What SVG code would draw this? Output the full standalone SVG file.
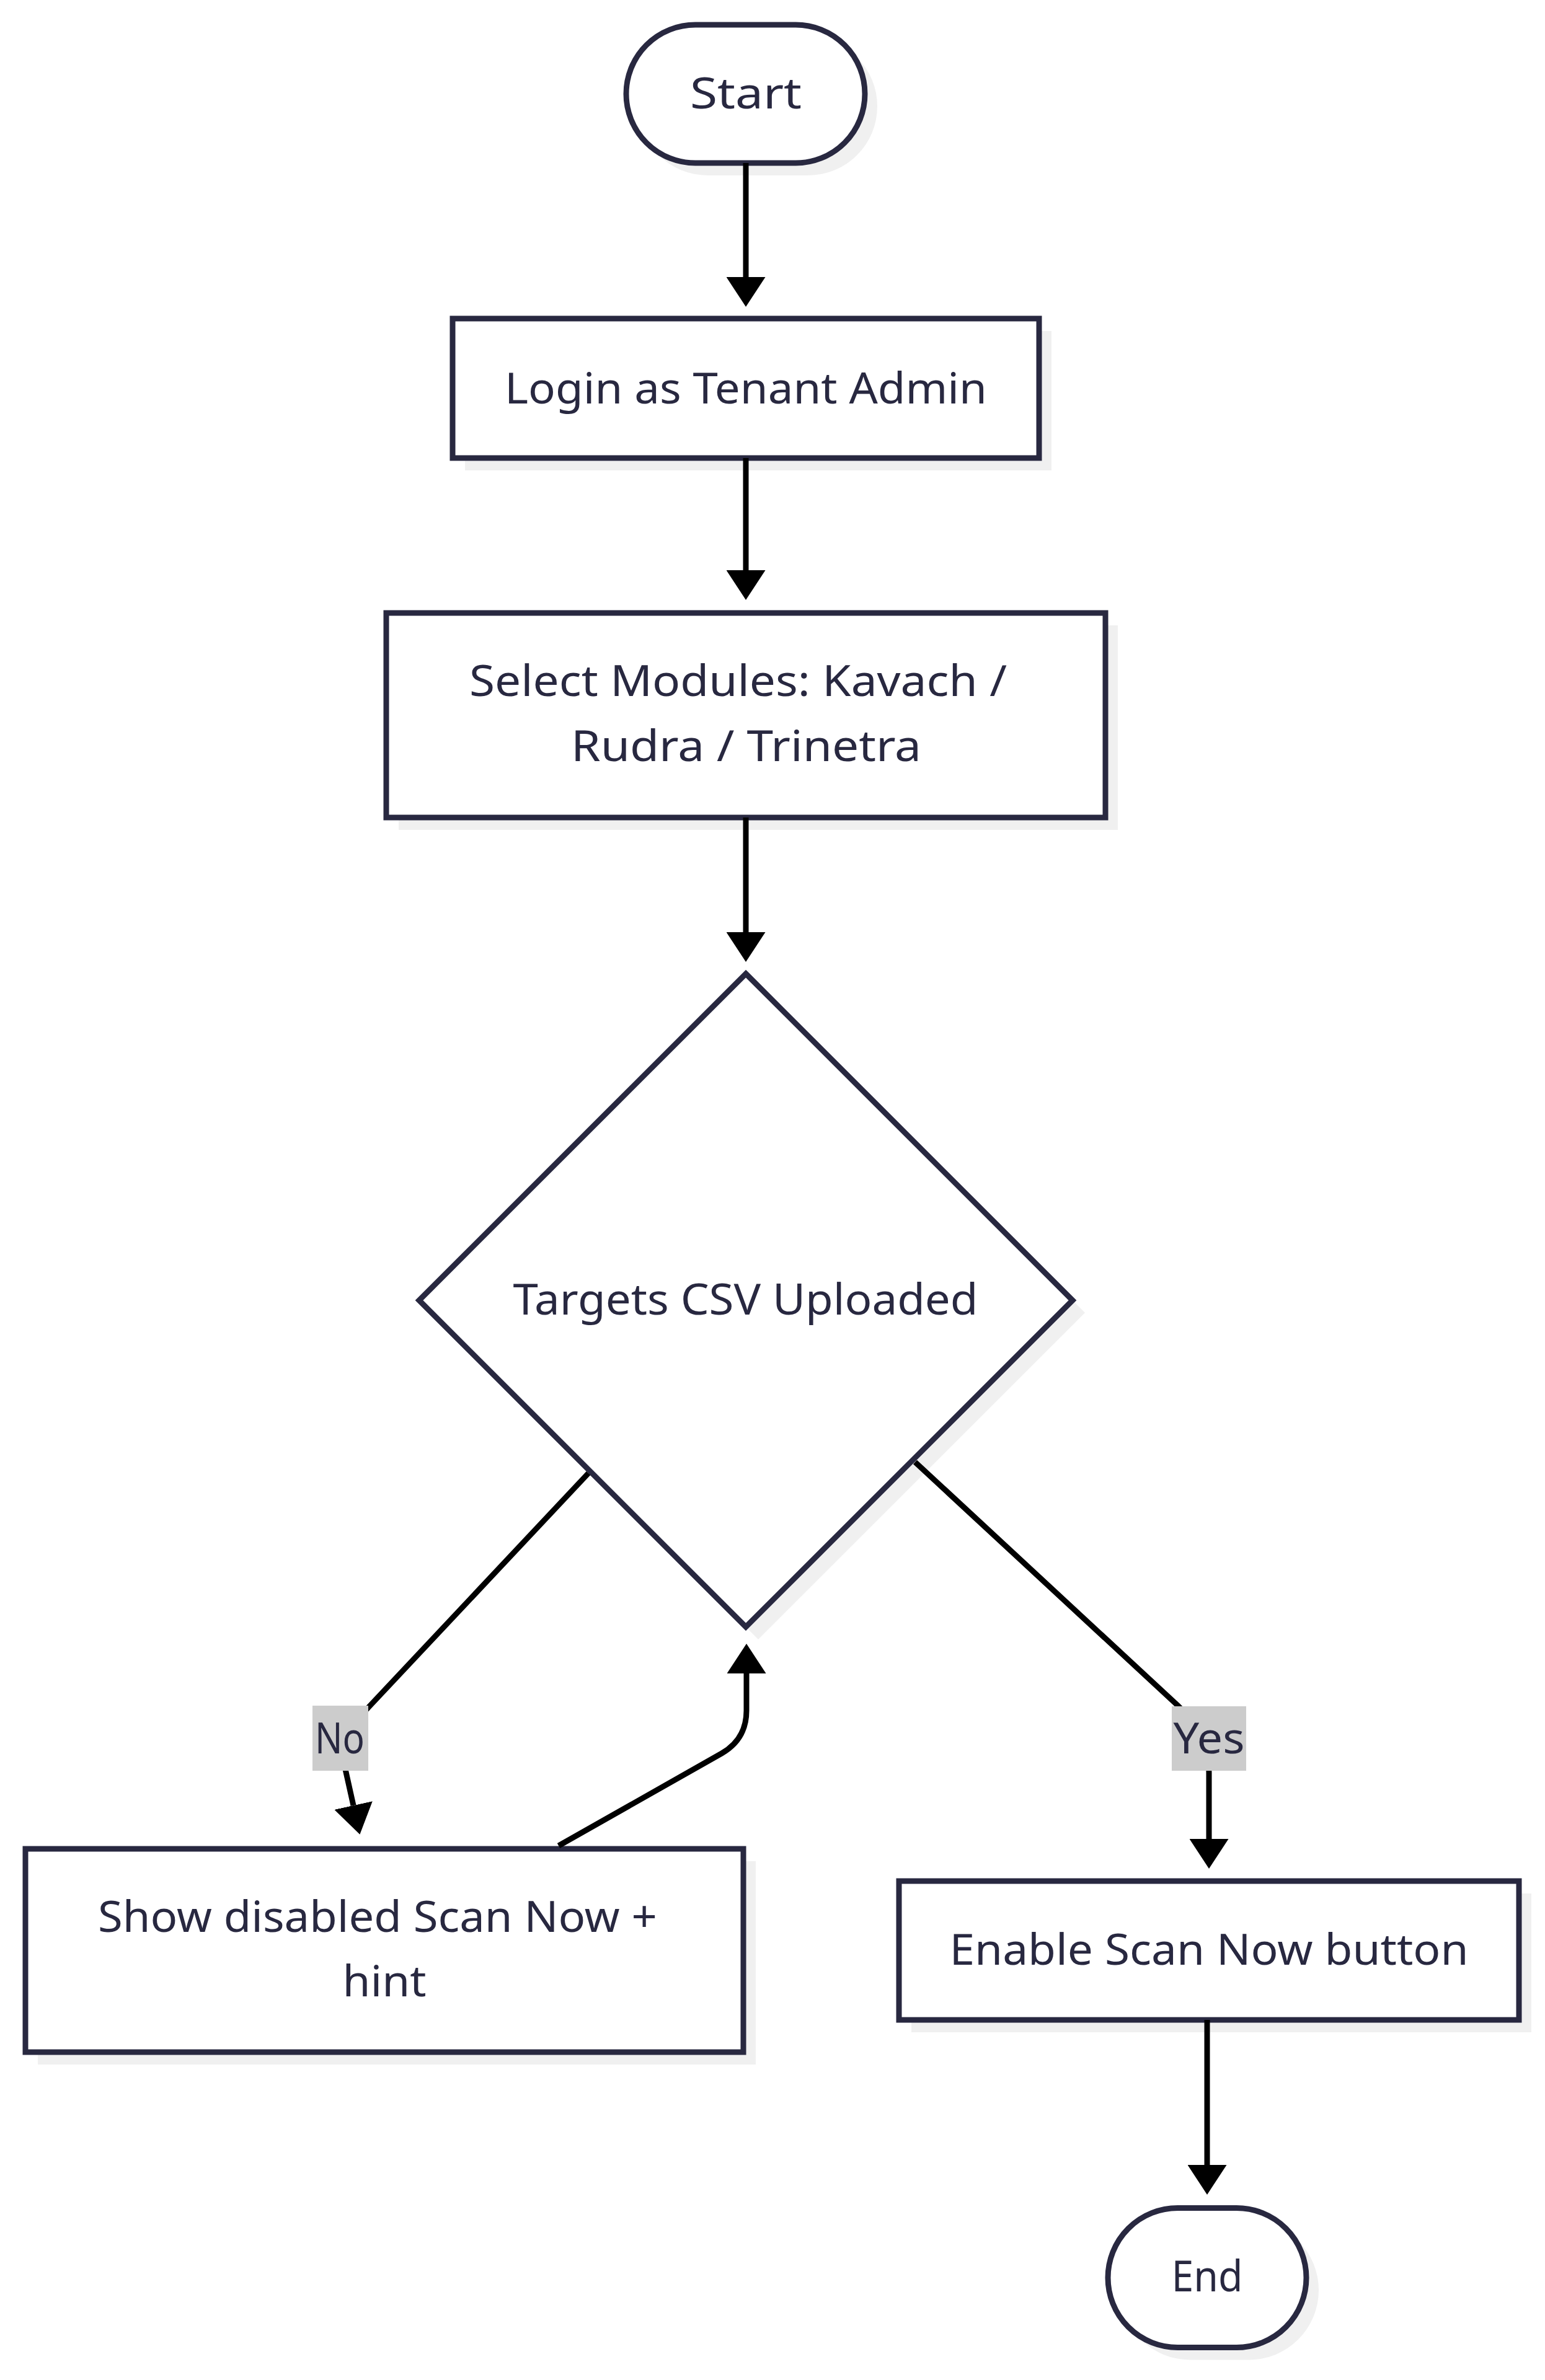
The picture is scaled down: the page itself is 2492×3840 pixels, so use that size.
<svg xmlns="http://www.w3.org/2000/svg" width="2492" height="3840" viewBox="0 0 2492 3840">
<defs>
<style>
.node{fill:#ffffff;stroke:#282840;stroke-width:9}
.shadow{fill:#f0f0f0;stroke:none}
.lbl{font-family:"Noto Sans","Liberation Sans",sans-serif;font-size:70px;fill:#282840;text-anchor:middle}
.edge{fill:none;stroke:#000000;stroke-width:9}
.ebg{fill:#cccccc}
</style>
<marker id="arrow" viewBox="0 0 48 63" markerWidth="48" markerHeight="63" markerUnits="userSpaceOnUse" refX="0" refY="31.5" orient="auto">
<path d="M0,0 L48,31.5 L0,63 z" fill="#000000"/>
</marker>
</defs>
<rect x="0" y="0" width="2492" height="3840" fill="#ffffff"/>

<g id="node-start">
<rect class="shadow" x="1030" y="60" width="385" height="223" rx="111.5"/>
<rect class="node" x="1010" y="40" width="385" height="223" rx="111.5"/>
<text class="lbl" x="1203" y="175" textLength="180" lengthAdjust="spacingAndGlyphs">Start</text>
</g>

<g id="node-login">
<rect class="shadow" x="750" y="534" width="946" height="225"/>
<rect class="node" x="730" y="514" width="946" height="225"/>
<text class="lbl" x="1203" y="651" textLength="778" lengthAdjust="spacingAndGlyphs">Login as Tenant Admin</text>
</g>

<g id="node-select">
<rect class="shadow" x="643" y="1009" width="1160" height="330"/>
<rect class="node" x="623" y="989" width="1160" height="330"/>
<text class="lbl" x="1190.5" y="1123" textLength="867" lengthAdjust="spacingAndGlyphs">Select Modules: Kavach /</text>
<text class="lbl" x="1203.5" y="1228" textLength="565" lengthAdjust="spacingAndGlyphs">Rudra / Trinetra</text>
</g>

<g id="node-decision">
<polygon class="shadow" points="1223,1591 1750,2118 1223,2645 696,2118"/>
<polygon class="node" points="1203,1571 1730,2098 1203,2625 676,2098"/>
<text class="lbl" x="1202.5" y="2121" textLength="750" lengthAdjust="spacingAndGlyphs">Targets CSV Uploaded</text>
</g>

<g id="node-show">
<rect class="shadow" x="61" y="3003" width="1158" height="328"/>
<rect class="node" x="41" y="2983" width="1158" height="328"/>
<text class="lbl" x="609" y="3117" textLength="902" lengthAdjust="spacingAndGlyphs">Show disabled Scan Now +</text>
<text class="lbl" x="620" y="3221" textLength="135" lengthAdjust="spacingAndGlyphs">hint</text>
</g>

<g id="node-enable">
<rect class="shadow" x="1470" y="3055" width="1000" height="224"/>
<rect class="node" x="1450" y="3035" width="1000" height="224"/>
<text class="lbl" x="1950" y="3170" textLength="837" lengthAdjust="spacingAndGlyphs">Enable Scan Now button</text>
</g>

<g id="node-end">
<rect class="shadow" x="1807" y="3582.5" width="320" height="225" rx="112.5"/>
<rect class="node" x="1787" y="3562.5" width="320" height="225" rx="112.5"/>
<text class="lbl" x="1947" y="3697" textLength="115" lengthAdjust="spacingAndGlyphs">End</text>
</g>

<g id="connectors">
<path class="edge" d="M1203,263 L1203,447" marker-end="url(#arrow)"/>
<path class="edge" d="M1203,739 L1203,920" marker-end="url(#arrow)"/>
<path class="edge" d="M1203,1319 L1203,1504" marker-end="url(#arrow)"/>
<path class="edge" d="M949,2377 L594,2755 Q552,2800 556,2850 L570,2913" marker-end="url(#arrow)"/>
<path class="edge" d="M1476,2359 L1900,2752 Q1950,2800 1950,2860 L1950,2967" marker-end="url(#arrow)"/>
<path class="edge" d="M901,2978 L1164,2829 Q1204,2806 1204,2760 L1204,2700" marker-end="url(#arrow)"/>
<path class="edge" d="M1947,3259 L1947,3493" marker-end="url(#arrow)"/>
</g>

<g id="edge-labels">
<g id="label-no">
<rect class="ebg" x="504" y="2752" width="90" height="105"/>
<text class="lbl" x="548" y="2829" textLength="80" lengthAdjust="spacingAndGlyphs">No</text>
</g>
<g id="label-yes">
<rect class="ebg" x="1890" y="2753" width="120" height="104"/>
<text class="lbl" x="1950" y="2829" textLength="115" lengthAdjust="spacingAndGlyphs">Yes</text>
</g>
</g>
</svg>
